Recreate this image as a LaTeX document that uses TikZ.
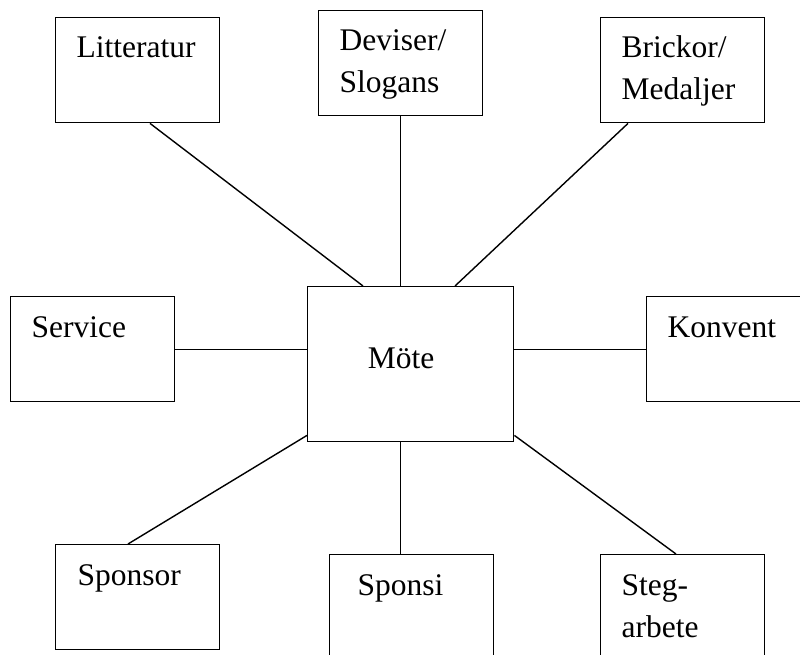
\documentclass[tikz,border=0pt]{standalone}
\usepackage{fontspec}
\setmainfont{Liberation Serif}
\usepackage{tikz}
\usetikzlibrary{positioning,calc}

\begin{document}
\begin{tikzpicture}[x=1pt, y=-1pt, line width=1.4pt,
		box/.style={draw, rectangle, anchor=north west, minimum width=164pt, minimum height=105pt, inner sep=0pt},
		txt/.style={anchor=base west, inner sep=0pt, align=left, font=\fontsize{31.5}{42}\selectfont}]
			\useasboundingbox (0,0) rectangle (800,655);
			\clip (0,0) rectangle (800,655);
			% boxes
			\node[box] (litt) at (55,17) {};
			\node[box] (dev) at (318,10) {};
			\node[box] (brick) at (600,17) {};
			\node[box] (serv) at (10,296) {};
			\node[box, minimum width=206pt, minimum height=155pt] (mote) at (307,286) {};
			\node[box] (konv) at (646,296) {};
			\node[box] (spons) at (55,544) {};
			\node[box] (sponsi) at (329,554) {};
			\node[box] (steg) at (600,554) {};
			% texts (two-line ones sit on their last baseline)
			\node[txt] (littT) at ($(litt.north west)+(21,41)$) {Litteratur};
			\node[txt] (devT) at ($(dev.north west)+(21,83)$) {Deviser/\\Slogans};
			\node[txt] (brickT) at ($(brick.north west)+(21,83)$) {Brickor/\\Medaljer};
			\node[txt] (servT) at ($(serv.north west)+(21,41)$) {Service};
			\node[txt, anchor=base] (moteT) at (401,368) {Möte};
			\node[txt] (konvT) at ($(konv.north west)+(21,41)$) {Konvent};
			\node[txt] (sponsT) at ($(spons.north west)+(22,41)$) {Sponsor};
			\node[txt] (sponsiT) at ($(sponsi.north west)+(28,41)$) {Sponsi};
			\node[txt] (stegT) at ($(steg.north west)+(21,83)$) {Steg-\\arbete};
			% lines
			\draw ($(litt.south west)+(95,0)$) -- ($(mote.north west)+(56,0)$);
			\draw (dev.south) -- (mote.north -| dev.south);
			\draw ($(brick.south west)+(28,0)$) -- ($(mote.north west)+(148,0)$);
			\draw (serv.east) -- (mote.west |- serv.east);
			\draw (konv.west) -- (mote.east |- konv.west);
			\draw ($(spons.north west)+(73,0)$) -- ($(mote.south west)+(0,-7)$);
			\draw (mote.south -| dev.south) -- (sponsi.north -| dev.south);
			\draw ($(steg.north west)+(76,0)$) -- ($(mote.south east)+(0,-7)$);
			\end{tikzpicture}
\end{document}
